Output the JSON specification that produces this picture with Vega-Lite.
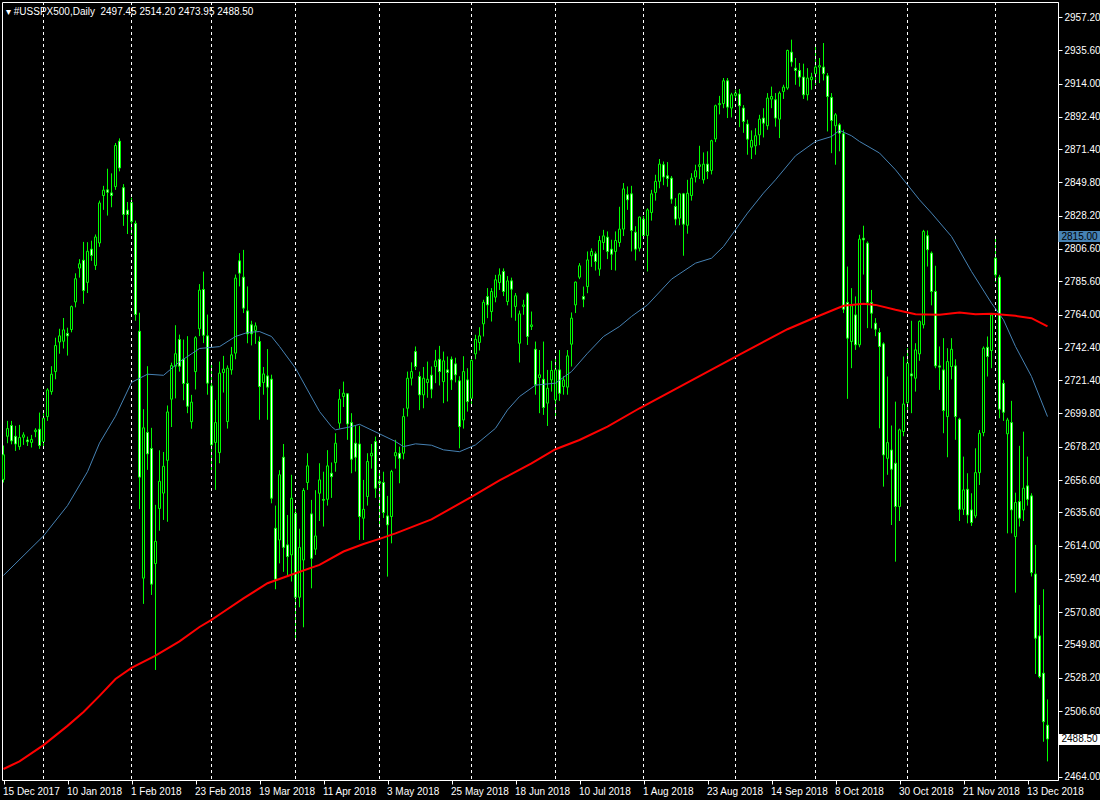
{
  "$schema": "https://vega.github.io/schema/vega-lite/v6.json",
  "width": 1056,
  "height": 778,
  "autosize": {"type": "none"},
  "padding": {"left": 2, "top": 2, "right": 42, "bottom": 20},
  "background": "black",
  "config": {
    "view": {"stroke": "white", "strokeWidth": 1},
    "axis": {"labelFont": "Liberation Sans", "labelFontSize": 10, "labelColor": "white", "domainColor": "white", "tickColor": "white", "grid": false, "title": null, "labelOverlap": false, "labelFlush": false}
  },
  "title": {"text": "▾ #USSPX500,Daily\u00a0\u00a02497.45 2514.20 2473.95 2488.50", "anchor": "start", "frame": "group", "orient": "top", "offset": -12, "dx": 4, "dy": 11, "baseline": "alphabetic", "color": "white", "font": "Liberation Sans", "fontSize": 10, "fontWeight": "normal"},
  "datasets": {
    "bars": [
      {"d":"2017-12-15","o":2657,"h":2679,"l":2655,"c":2673,"r":2469,"b":2594.7},
      {"d":"2017-12-18","o":2685,"h":2695,"l":2680.5,"c":2690},
      {"d":"2017-12-19","o":2692,"h":2695,"l":2679.8,"c":2682},
      {"d":"2017-12-20","o":2685,"h":2691.8,"l":2675.5,"c":2680},
      {"d":"2017-12-21","o":2678.3,"h":2692.4,"l":2676.2,"c":2684.2,"r":2474},
      {"d":"2017-12-22","o":2684.4,"h":2687.6,"l":2679.4,"c":2685.9},
      {"d":"2017-12-26","o":2682.6,"h":2684.8,"l":2678.7,"c":2681.5},
      {"d":"2017-12-27","o":2681,"h":2685.9,"l":2677.7,"c":2683},
      {"d":"2017-12-28","o":2688,"h":2690.2,"l":2684.4,"c":2689},
      {"d":"2017-12-29","o":2689.6,"h":2700.4,"l":2676.8,"c":2679},
      {"d":"2018-01-02","o":2681.6,"h":2700,"l":2677.2,"c":2696.7,"r":2484.5,"b":2620.3},
      {"d":"2018-01-03","o":2697.8,"h":2716.2,"l":2695,"c":2715.1},
      {"d":"2018-01-04","o":2714,"h":2730.5,"l":2712,"c":2725.3},
      {"d":"2018-01-05","o":2727,"h":2749,"l":2722,"c":2743.9},
      {"d":"2018-01-08","o":2746.2,"h":2754.8,"l":2738.6,"c":2750.2},
      {"d":"2018-01-09","o":2746.7,"h":2761.8,"l":2742,"c":2754.1},
      {"d":"2018-01-10","o":2751.8,"h":2755.5,"l":2737.4,"c":2750.2,"r":2497,"b":2640},
      {"d":"2018-01-11","o":2754.3,"h":2769.9,"l":2752.5,"c":2769.2},
      {"d":"2018-01-12","o":2772.2,"h":2790.8,"l":2768.7,"c":2787.3},
      {"d":"2018-01-15","o":2794.2,"h":2800,"l":2788,"c":2797},
      {"d":"2018-01-16","o":2799.3,"h":2811.2,"l":2771,"c":2779.6,"r":2506},
      {"d":"2018-01-17","o":2784.9,"h":2811,"l":2778,"c":2805.1,"b":2662},
      {"d":"2018-01-18","o":2806.5,"h":2812,"l":2798.9,"c":2802.4},
      {"d":"2018-01-19","o":2795.9,"h":2816,"l":2793,"c":2814.4},
      {"d":"2018-01-22","o":2810.5,"h":2838,"l":2808,"c":2836.5,"r":2516.5,"b":2680.6},
      {"d":"2018-01-23","o":2841.3,"h":2847.6,"l":2832,"c":2844.8},
      {"d":"2018-01-24","o":2845,"h":2858.7,"l":2828.3,"c":2843.4},
      {"d":"2018-01-25","o":2843,"h":2855.7,"l":2833.7,"c":2841.3},
      {"d":"2018-01-26","o":2847.1,"h":2875.4,"l":2845,"c":2873.8,"r":2527.4,"b":2698},
      {"d":"2018-01-29","o":2876.6,"h":2878.4,"l":2857,"c":2859.2},
      {"d":"2018-01-30","o":2846.4,"h":2848.7,"l":2821.6,"c":2829},
      {"d":"2018-01-31","o":2831.8,"h":2837.1,"l":2816.3,"c":2829},
      {"d":"2018-02-01","o":2836.7,"h":2839.9,"l":2815.8,"c":2824.4,"r":2534.6,"b":2720},
      {"d":"2018-02-02","o":2823.2,"h":2825,"l":2760,"c":2764.1},
      {"d":"2018-02-05","o":2753.2,"h":2765.2,"l":2637.7,"c":2658.5},
      {"d":"2018-02-06","o":2592.9,"h":2702.6,"l":2576.2,"c":2690.5},
      {"d":"2018-02-07","o":2687.5,"h":2730.5,"l":2663.2,"c":2673.6,"b":2725.3},
      {"d":"2018-02-08","o":2677.1,"h":2690.5,"l":2582,"c":2589},
      {"d":"2018-02-09","o":2602.4,"h":2640.5,"l":2533.3,"c":2616.8,"r":2542.6},
      {"d":"2018-02-12","o":2638.1,"h":2675.9,"l":2623.7,"c":2655.8},
      {"d":"2018-02-13","o":2648.1,"h":2674.8,"l":2630.7,"c":2665.5,"b":2724.6},
      {"d":"2018-02-14","o":2669.4,"h":2705,"l":2629.5,"c":2700.8},
      {"d":"2018-02-15","o":2709.1,"h":2732.8,"l":2691,"c":2730.9},
      {"d":"2018-02-16","o":2730.5,"h":2757.1,"l":2709.6,"c":2738.6},
      {"d":"2018-02-19","o":2747.8,"h":2751,"l":2727,"c":2730.5,"r":2551.9,"b":2733.3},
      {"d":"2018-02-20","o":2735.1,"h":2747.8,"l":2708.4,"c":2719.3},
      {"d":"2018-02-21","o":2719.3,"h":2750,"l":2700,"c":2704.5},
      {"d":"2018-02-22","o":2694.5,"h":2711.9,"l":2689.9,"c":2707.2},
      {"d":"2018-02-23","o":2727,"h":2750,"l":2715.4,"c":2749},
      {"d":"2018-02-26","o":2754.8,"h":2783.8,"l":2750,"c":2779.9,"r":2561.2,"b":2742},
      {"d":"2018-02-27","o":2780.3,"h":2791.9,"l":2745.5,"c":2750.6},
      {"d":"2018-02-28","o":2750.2,"h":2764,"l":2712,"c":2719.5},
      {"d":"2018-03-01","o":2717.7,"h":2732,"l":2662,"c":2679.4,"r":2565.8},
      {"d":"2018-03-02","o":2681,"h":2708.6,"l":2650.2,"c":2693.9},
      {"d":"2018-03-05","o":2674.4,"h":2733.5,"l":2667.5,"c":2726,"r":2569.3,"b":2743.2},
      {"d":"2018-03-06","o":2726.4,"h":2737.2,"l":2713.4,"c":2728.6},
      {"d":"2018-03-07","o":2694.6,"h":2731,"l":2690,"c":2729.2},
      {"d":"2018-03-08","o":2728.1,"h":2743,"l":2725,"c":2737.9},
      {"d":"2018-03-09","o":2739,"h":2790,"l":2735,"c":2787.7,"b":2749.8},
      {"d":"2018-03-12","o":2798.9,"h":2803.9,"l":2782.3,"c":2790.9},
      {"d":"2018-03-13","o":2788.3,"h":2806,"l":2765,"c":2768.2,"r":2579.8},
      {"d":"2018-03-14","o":2766.4,"h":2782.3,"l":2745.4,"c":2751.5,"b":2752.4},
      {"d":"2018-03-15","o":2757.4,"h":2760,"l":2744,"c":2751.5},
      {"d":"2018-03-16","o":2753.7,"h":2758.9,"l":2745,"c":2756.7},
      {"d":"2018-03-19","o":2746.5,"h":2749.8,"l":2695.7,"c":2717.3,"b":2753},
      {"d":"2018-03-20","o":2719.9,"h":2730,"l":2712,"c":2725.5},
      {"d":"2018-03-21","o":2724.2,"h":2741.6,"l":2695.7,"c":2716.9,"r":2589.6},
      {"d":"2018-03-22","o":2722.1,"h":2725,"l":2641.5,"c":2644.8,"b":2749.8},
      {"d":"2018-03-23","o":2625.3,"h":2640,"l":2585.7,"c":2592.2},
      {"d":"2018-03-26","o":2617.7,"h":2663,"l":2602.5,"c":2660,"b":2743.3},
      {"d":"2018-03-27","o":2671.4,"h":2680,"l":2597,"c":2612.9},
      {"d":"2018-03-28","o":2614.5,"h":2633.9,"l":2593.9,"c":2606.9},
      {"d":"2018-03-29","o":2608,"h":2660,"l":2590.7,"c":2644.8},
      {"d":"2018-04-02","o":2635,"h":2639.4,"l":2552.8,"c":2580.5,"r":2596.1,"b":2729.2},
      {"d":"2018-04-03","o":2580.5,"h":2625,"l":2574,"c":2612.9},
      {"d":"2018-04-04","o":2604.7,"h":2651.3,"l":2561,"c":2649.8},
      {"d":"2018-04-05","o":2655,"h":2674,"l":2650.2,"c":2665.8,"b":2715.1},
      {"d":"2018-04-06","o":2634.6,"h":2643.7,"l":2586.3,"c":2605.8},
      {"d":"2018-04-09","o":2611.7,"h":2650,"l":2608,"c":2620.3},
      {"d":"2018-04-10","o":2648,"h":2667.5,"l":2630,"c":2656.7,"r":2601.5,"b":2701.1},
      {"d":"2018-04-11","o":2644,"h":2662,"l":2626.4,"c":2643.5},
      {"d":"2018-04-12","o":2644.1,"h":2676,"l":2640,"c":2665.8},
      {"d":"2018-04-13","o":2661,"h":2668,"l":2645,"c":2658.8,"b":2691.3},
      {"d":"2018-04-16","o":2667.9,"h":2687,"l":2662,"c":2680.5,"b":2689.2},
      {"d":"2018-04-17","o":2693.5,"h":2715.6,"l":2690,"c":2709.1},
      {"d":"2018-04-18","o":2710.8,"h":2720.5,"l":2704,"c":2713,"r":2610.2},
      {"d":"2018-04-19","o":2712.6,"h":2713,"l":2682.7,"c":2693},
      {"d":"2018-04-20","o":2693.9,"h":2700,"l":2661,"c":2670.1,"b":2691.3},
      {"d":"2018-04-23","o":2680.5,"h":2691.8,"l":2662.1,"c":2671.4},
      {"d":"2018-04-24","o":2680,"h":2691.8,"l":2617.7,"c":2632.9,"b":2692.8},
      {"d":"2018-04-25","o":2631.8,"h":2656.7,"l":2617.7,"c":2637.6,"r":2615.1},
      {"d":"2018-04-26","o":2645.9,"h":2674,"l":2640,"c":2668.6},
      {"d":"2018-04-27","o":2672.3,"h":2680,"l":2664,"c":2674},
      {"d":"2018-04-30","o":2681.6,"h":2684.8,"l":2645,"c":2651.3},
      {"d":"2018-05-01","o":2655.6,"h":2663.2,"l":2625.9,"c":2654.5,"r":2618.4,"b":2686.6},
      {"d":"2018-05-02","o":2655,"h":2662,"l":2632,"c":2635.5},
      {"d":"2018-05-03","o":2633.3,"h":2646.3,"l":2593.9,"c":2627.5},
      {"d":"2018-05-04","o":2632.9,"h":2663.2,"l":2615.5,"c":2662.1},
      {"d":"2018-05-07","o":2672.3,"h":2682.7,"l":2664,"c":2674.4,"r":2622,"b":2681.6},
      {"d":"2018-05-08","o":2674,"h":2678.3,"l":2654.5,"c":2670.7},
      {"d":"2018-05-09","o":2674,"h":2703.2,"l":2670,"c":2697.8,"b":2678.3},
      {"d":"2018-05-10","o":2703.2,"h":2727,"l":2697.8,"c":2722.7},
      {"d":"2018-05-11","o":2722.7,"h":2733,"l":2718,"c":2727},
      {"d":"2018-05-14","o":2740,"h":2743.3,"l":2728,"c":2730.3,"b":2680.1},
      {"d":"2018-05-15","o":2723.8,"h":2727,"l":2702,"c":2711.9},
      {"d":"2018-05-16","o":2711.9,"h":2730,"l":2703.2,"c":2722.7},
      {"d":"2018-05-17","o":2719.9,"h":2733.5,"l":2710,"c":2722},
      {"d":"2018-05-18","o":2724.7,"h":2730.3,"l":2709.7,"c":2715.6,"r":2631.1,"b":2679.2},
      {"d":"2018-05-21","o":2730.3,"h":2741.1,"l":2719.5,"c":2734},
      {"d":"2018-05-22","o":2735,"h":2743.7,"l":2718,"c":2727},
      {"d":"2018-05-23","o":2720.5,"h":2740,"l":2706.5,"c":2734,"b":2676.2},
      {"d":"2018-05-24","o":2728.1,"h":2736.8,"l":2707.6,"c":2726.4},
      {"d":"2018-05-25","o":2735,"h":2736.8,"l":2715.1,"c":2721.6},
      {"d":"2018-05-28","o":2732,"h":2736,"l":2720,"c":2724.9},
      {"d":"2018-05-29","o":2721,"h":2724,"l":2677.2,"c":2691.3,"b":2675},
      {"d":"2018-05-30","o":2695.6,"h":2737,"l":2690,"c":2727},
      {"d":"2018-05-31","o":2721.6,"h":2729.2,"l":2701,"c":2707.5},
      {"d":"2018-06-01","o":2709.7,"h":2735,"l":2705,"c":2734.2,"r":2645.6},
      {"d":"2018-06-04","o":2738.5,"h":2750.9,"l":2735,"c":2748,"b":2679.4},
      {"d":"2018-06-05","o":2745.9,"h":2755.8,"l":2740.7,"c":2750.2},
      {"d":"2018-06-06","o":2758,"h":2773.6,"l":2749.8,"c":2772},
      {"d":"2018-06-07","o":2775.7,"h":2781.2,"l":2761.7,"c":2770.3},
      {"d":"2018-06-08","o":2766,"h":2781.2,"l":2759.5,"c":2779},
      {"d":"2018-06-11","o":2775.3,"h":2789.8,"l":2772,"c":2786.6,"b":2690.2},
      {"d":"2018-06-12","o":2784.8,"h":2794,"l":2780,"c":2789.8,"r":2656.4},
      {"d":"2018-06-13","o":2792,"h":2794,"l":2776,"c":2779},
      {"d":"2018-06-14","o":2772.5,"h":2789,"l":2770,"c":2785.9,"b":2702.1},
      {"d":"2018-06-15","o":2785.9,"h":2788,"l":2762,"c":2780.5},
      {"d":"2018-06-18","o":2769.3,"h":2778,"l":2760,"c":2776.2},
      {"d":"2018-06-19","o":2745.4,"h":2766.6,"l":2732.9,"c":2764.5,"b":2710.8},
      {"d":"2018-06-20","o":2769.3,"h":2773.6,"l":2763.9,"c":2770.3},
      {"d":"2018-06-21","o":2777.5,"h":2778.4,"l":2744.3,"c":2749.8},
      {"d":"2018-06-22","o":2756.3,"h":2766,"l":2754,"c":2757.3,"r":2667.4},
      {"d":"2018-06-25","o":2741.5,"h":2746.5,"l":2712,"c":2718.4,"b":2718.2},
      {"d":"2018-06-26","o":2723.1,"h":2741,"l":2700,"c":2724.9},
      {"d":"2018-06-27","o":2722,"h":2746.5,"l":2698.9,"c":2703.7},
      {"d":"2018-06-28","o":2706.5,"h":2728.1,"l":2691.7,"c":2716.2},
      {"d":"2018-06-29","o":2721.6,"h":2734,"l":2714,"c":2727.7},
      {"d":"2018-07-02","o":2708.6,"h":2735.7,"l":2697.8,"c":2728.1,"r":2676.6,"b":2719.5},
      {"d":"2018-07-03","o":2728.1,"h":2741,"l":2708,"c":2712.9},
      {"d":"2018-07-04","o":2717.3,"h":2724,"l":2712,"c":2721.6},
      {"d":"2018-07-05","o":2716.9,"h":2741,"l":2712,"c":2737.2},
      {"d":"2018-07-06","o":2744.8,"h":2765.4,"l":2730.3,"c":2761.7,"b":2727},
      {"d":"2018-07-09","o":2770.3,"h":2785.5,"l":2765,"c":2785.1},
      {"d":"2018-07-10","o":2788.3,"h":2797.4,"l":2787,"c":2795.7,"r":2682.6},
      {"d":"2018-07-11","o":2775.7,"h":2782.2,"l":2768.8,"c":2774},
      {"d":"2018-07-12","o":2782.2,"h":2805,"l":2777.9,"c":2799.5,"b":2738.9},
      {"d":"2018-07-13","o":2802.2,"h":2807,"l":2795,"c":2805},
      {"d":"2018-07-16","o":2803.5,"h":2805,"l":2792.6,"c":2798.5},
      {"d":"2018-07-17","o":2793.5,"h":2815.1,"l":2789.2,"c":2812.1},
      {"d":"2018-07-18","o":2810.8,"h":2819,"l":2806,"c":2815.1,"b":2749.8},
      {"d":"2018-07-19","o":2814.3,"h":2818,"l":2800,"c":2805,"r":2691.3},
      {"d":"2018-07-20","o":2806.5,"h":2812.6,"l":2793,"c":2803.2},
      {"d":"2018-07-23","o":2805,"h":2818,"l":2792.6,"c":2812.1},
      {"d":"2018-07-24","o":2810.8,"h":2834,"l":2808,"c":2819.5,"b":2756.3},
      {"d":"2018-07-25","o":2819.5,"h":2849.4,"l":2815,"c":2845.6},
      {"d":"2018-07-26","o":2841.8,"h":2847.2,"l":2832,"c":2838.5},
      {"d":"2018-07-27","o":2842.4,"h":2847.6,"l":2805,"c":2818.6,"b":2762.8},
      {"d":"2018-07-30","o":2817.5,"h":2821.4,"l":2799.1,"c":2806.5},
      {"d":"2018-07-31","o":2807.1,"h":2827.7,"l":2805,"c":2827.3,"r":2703.2},
      {"d":"2018-08-01","o":2826,"h":2828,"l":2813,"c":2815.4},
      {"d":"2018-08-02","o":2815.4,"h":2833,"l":2792,"c":2832,"b":2770.3},
      {"d":"2018-08-03","o":2830.3,"h":2845,"l":2825,"c":2842.4},
      {"d":"2018-08-06","o":2843.3,"h":2854.8,"l":2838,"c":2850.5},
      {"d":"2018-08-07","o":2850.5,"h":2865,"l":2846,"c":2861.7},
      {"d":"2018-08-08","o":2861.3,"h":2863.4,"l":2848,"c":2853.3},
      {"d":"2018-08-09","o":2854.1,"h":2863,"l":2847,"c":2852.4},
      {"d":"2018-08-10","o":2852.6,"h":2854,"l":2836,"c":2839,"b":2787},
      {"d":"2018-08-13","o":2834.2,"h":2839.6,"l":2822,"c":2826},
      {"d":"2018-08-14","o":2826.6,"h":2843,"l":2822,"c":2842.4},
      {"d":"2018-08-15","o":2842.4,"h":2843,"l":2802.2,"c":2822.7},
      {"d":"2018-08-16","o":2822,"h":2851.5,"l":2816.5,"c":2842.8},
      {"d":"2018-08-17","o":2841.3,"h":2855.8,"l":2838,"c":2852.6},
      {"d":"2018-08-20","o":2853.3,"h":2861.3,"l":2849.8,"c":2857.4,"b":2797.4},
      {"d":"2018-08-21","o":2860.2,"h":2873.6,"l":2852,"c":2861.3,"r":2724},
      {"d":"2018-08-22","o":2851.5,"h":2869.3,"l":2849,"c":2861.7},
      {"d":"2018-08-23","o":2861.7,"h":2870,"l":2852,"c":2856.9},
      {"d":"2018-08-24","o":2857.6,"h":2877.5,"l":2855,"c":2876.9,"b":2800.6},
      {"d":"2018-08-27","o":2878,"h":2900.3,"l":2876,"c":2899.6},
      {"d":"2018-08-28","o":2900.3,"h":2906,"l":2894,"c":2901},
      {"d":"2018-08-29","o":2901,"h":2917.6,"l":2898,"c":2915.8,"b":2808.2},
      {"d":"2018-08-30","o":2915.8,"h":2917.6,"l":2891.6,"c":2898.7},
      {"d":"2018-08-31","o":2898.1,"h":2908,"l":2892,"c":2906.7},
      {"d":"2018-09-03","o":2906.3,"h":2910,"l":2903,"c":2907.8,"b":2819.1},
      {"d":"2018-09-04","o":2907.2,"h":2910.4,"l":2885.7,"c":2899.6,"r":2738},
      {"d":"2018-09-05","o":2898.1,"h":2900,"l":2882,"c":2889.4},
      {"d":"2018-09-06","o":2887.7,"h":2890.5,"l":2867.8,"c":2877.9,"b":2829.9},
      {"d":"2018-09-07","o":2872.7,"h":2883.6,"l":2865,"c":2877.1},
      {"d":"2018-09-10","o":2873.6,"h":2885,"l":2867.8,"c":2880.1},
      {"d":"2018-09-11","o":2880.7,"h":2893.7,"l":2874,"c":2890.9},
      {"d":"2018-09-12","o":2891.6,"h":2898,"l":2879,"c":2888.3,"b":2842.9},
      {"d":"2018-09-13","o":2886.6,"h":2907.8,"l":2884,"c":2904.6},
      {"d":"2018-09-14","o":2903.9,"h":2912,"l":2898,"c":2905.6},
      {"d":"2018-09-17","o":2903.5,"h":2907.8,"l":2886,"c":2891.6,"b":2851.5},
      {"d":"2018-09-18","o":2890.9,"h":2908.9,"l":2878.6,"c":2907.8},
      {"d":"2018-09-19","o":2908.9,"h":2913.2,"l":2904,"c":2911.7},
      {"d":"2018-09-20","o":2911.1,"h":2936,"l":2910,"c":2935.5,"r":2754.5},
      {"d":"2018-09-21","o":2934.4,"h":2942.5,"l":2925,"c":2928},
      {"d":"2018-09-24","o":2924,"h":2930.6,"l":2913.2,"c":2922.5,"b":2867.1},
      {"d":"2018-09-25","o":2922.5,"h":2927.3,"l":2912,"c":2918.2},
      {"d":"2018-09-26","o":2918.2,"h":2926.9,"l":2904,"c":2906.7},
      {"d":"2018-09-27","o":2906.7,"h":2924,"l":2903,"c":2917.6},
      {"d":"2018-09-28","o":2916.5,"h":2921,"l":2910,"c":2918.2},
      {"d":"2018-10-01","o":2920.4,"h":2938.6,"l":2913,"c":2924.7,"r":2762.3,"b":2876.4},
      {"d":"2018-10-02","o":2924.7,"h":2930.6,"l":2914.3,"c":2925.6},
      {"d":"2018-10-03","o":2924.7,"h":2940.3,"l":2916,"c":2920.4},
      {"d":"2018-10-04","o":2919,"h":2920.8,"l":2882.9,"c":2905.6},
      {"d":"2018-10-05","o":2905,"h":2907.8,"l":2868.8,"c":2890,"b":2879.6},
      {"d":"2018-10-08","o":2886.6,"h":2894.8,"l":2861.3,"c":2893.7},
      {"d":"2018-10-09","o":2887.2,"h":2888.3,"l":2870,"c":2881.8,"b":2883.6},
      {"d":"2018-10-10","o":2881.4,"h":2884,"l":2765,"c":2767.5,"r":2769.7},
      {"d":"2018-10-11","o":2771.9,"h":2795.2,"l":2709.3,"c":2748.7},
      {"d":"2018-10-12","o":2746.5,"h":2781.2,"l":2729.2,"c":2769.7,"b":2880.1},
      {"d":"2018-10-15","o":2763.8,"h":2775.8,"l":2741.1,"c":2744.4},
      {"d":"2018-10-16","o":2744.4,"h":2815.8,"l":2742.8,"c":2813,"b":2876.4},
      {"d":"2018-10-17","o":2813.6,"h":2821.7,"l":2790,"c":2812.5,"r":2771},
      {"d":"2018-10-18","o":2810.4,"h":2811.5,"l":2755.2,"c":2771.9},
      {"d":"2018-10-19","o":2771.9,"h":2780,"l":2755,"c":2764.9},
      {"d":"2018-10-22","o":2758.4,"h":2761.7,"l":2750,"c":2754.5,"r":2770.3},
      {"d":"2018-10-23","o":2752.4,"h":2755.2,"l":2690.2,"c":2743.3,"b":2868.9},
      {"d":"2018-10-24","o":2745,"h":2746,"l":2652.3,"c":2672.9},
      {"d":"2018-10-25","o":2670.7,"h":2723.8,"l":2660,"c":2680.9},
      {"d":"2018-10-26","o":2676.1,"h":2692,"l":2627.4,"c":2663.6},
      {"d":"2018-10-29","o":2667.5,"h":2707.5,"l":2603.6,"c":2639.4,"r":2767.1,"b":2858},
      {"d":"2018-10-30","o":2639.4,"h":2690,"l":2630,"c":2689.2},
      {"d":"2018-10-31","o":2688.1,"h":2736.8,"l":2685,"c":2706},
      {"d":"2018-11-01","o":2706.9,"h":2742.2,"l":2700.4,"c":2732.4},
      {"d":"2018-11-02","o":2725.5,"h":2760,"l":2700,"c":2724.2},
      {"d":"2018-11-05","o":2722.7,"h":2745.4,"l":2714,"c":2741.1,"r":2764.3},
      {"d":"2018-11-06","o":2738.5,"h":2760.2,"l":2734,"c":2759.6,"b":2838.5},
      {"d":"2018-11-07","o":2757.4,"h":2819,"l":2755,"c":2818},
      {"d":"2018-11-08","o":2815.2,"h":2818.6,"l":2795.2,"c":2806.1},
      {"d":"2018-11-09","o":2803.9,"h":2805,"l":2770,"c":2779,"b":2829.9},
      {"d":"2018-11-12","o":2779,"h":2795.7,"l":2729.2,"c":2730.7},
      {"d":"2018-11-13","o":2730.7,"h":2743.3,"l":2715.1,"c":2729.9,"r":2763.9},
      {"d":"2018-11-14","o":2728.1,"h":2748.7,"l":2687,"c":2701.7},
      {"d":"2018-11-15","o":2697.8,"h":2742.2,"l":2671.4,"c":2733.5},
      {"d":"2018-11-16","o":2730.3,"h":2748.7,"l":2722,"c":2741.5,"b":2814.7},
      {"d":"2018-11-19","o":2730.7,"h":2735,"l":2682.7,"c":2697.8},
      {"d":"2018-11-20","o":2696.1,"h":2697,"l":2630,"c":2637.6,"r":2765.4},
      {"d":"2018-11-21","o":2637.6,"h":2671.8,"l":2633.9,"c":2650.2},
      {"d":"2018-11-22","o":2650.6,"h":2661,"l":2628.5,"c":2633.9},
      {"d":"2018-11-23","o":2637.2,"h":2648,"l":2626.8,"c":2629,"b":2792},
      {"d":"2018-11-26","o":2633.3,"h":2677.2,"l":2631.8,"c":2661.4,"r":2764.3},
      {"d":"2018-11-27","o":2661.4,"h":2689.1,"l":2653.4,"c":2687},
      {"d":"2018-11-28","o":2687.4,"h":2743.3,"l":2685,"c":2742.2},
      {"d":"2018-11-29","o":2742.8,"h":2749.8,"l":2723.8,"c":2736.8},
      {"d":"2018-11-30","o":2740.7,"h":2764,"l":2729.2,"c":2763.8,"r":2764.5,"b":2771.4},
      {"d":"2018-12-03","o":2800.6,"h":2815.2,"l":2785,"c":2789.8},
      {"d":"2018-12-04","o":2788.3,"h":2789.8,"l":2696.7,"c":2702.6},
      {"d":"2018-12-05","o":2719.4,"h":2721.6,"l":2695,"c":2700.6,"b":2760.6},
      {"d":"2018-12-06","o":2686.6,"h":2697,"l":2622,"c":2695.6},
      {"d":"2018-12-07","o":2693.9,"h":2708,"l":2622,"c":2637.2},
      {"d":"2018-12-10","o":2619.9,"h":2648.4,"l":2583.5,"c":2642,"r":2763.2,"b":2743.3},
      {"d":"2018-12-11","o":2642.6,"h":2678.8,"l":2626.4,"c":2631.8},
      {"d":"2018-12-12","o":2637.2,"h":2688,"l":2630,"c":2651.3},
      {"d":"2018-12-13","o":2652.8,"h":2671.8,"l":2640,"c":2644.1},
      {"d":"2018-12-14","o":2646.3,"h":2648,"l":2594,"c":2596.5,"r":2761.7,"b":2723.8},
      {"d":"2018-12-17","o":2595.6,"h":2614.5,"l":2530.7,"c":2553.9},
      {"d":"2018-12-18","o":2555.4,"h":2575.5,"l":2527.9,"c":2529},
      {"d":"2018-12-19","o":2531.2,"h":2585.7,"l":2486.7,"c":2499.7},
      {"d":"2018-12-20","o":2497.45,"h":2514.2,"l":2473.95,"c":2488.5,"r":2756.3,"b":2697.8}
    ]
  },
  "layer": [
    {
      "data": {"name": "bars"},
      "mark": {"type": "rule", "color": "#00FF00", "strokeWidth": 1},
      "encoding": {
        "x": {
          "field": "d", "type": "ordinal", "sort": "ascending",
          "scale": {"type": "point", "range": [1.5, 1045.5], "padding": 0},
          "axis": {
            "orient": "bottom",
            "values": ["2017-12-15","2018-01-10","2018-02-01","2018-02-23","2018-03-19","2018-04-11","2018-05-03","2018-05-25","2018-06-18","2018-07-10","2018-08-01","2018-08-23","2018-09-14","2018-10-08","2018-10-30","2018-11-21","2018-12-13"],
            "labelExpr": "utcFormat(toDate(datum.value), '%-d %b %Y')",
            "labelAngle": 0, "labelAlign": "left", "labelBaseline": "top", "labelPadding": 2, "labelOffset": -1,
            "tickSize": 4, "domain": true
          }
        },
        "y": {"field": "l", "type": "quantitative",
          "scale": {"domain": [2461.86, 2966.94], "zero": false, "nice": false},
          "axis": {"orient": "right", "values": [2464, 2506.6, 2528.2, 2549.8, 2570.8, 2592.4, 2614, 2635.6, 2656.6, 2678.2, 2699.8, 2721.4, 2742.4, 2764, 2785.6, 2806.6, 2828.2, 2849.8, 2871.4, 2892.4, 2914, 2935.6, 2957.2], "format": ".2f", "tickSize": 4, "labelPadding": 2, "domain": true}},
        "y2": {"field": "h"}
      }
    },
    {
      "data": {"name": "bars"},
      "transform": [{"filter": {"field": "d", "oneOf": ["2018-01-02","2018-02-01","2018-03-01","2018-04-02","2018-05-01","2018-06-01","2018-07-02","2018-08-01","2018-09-03","2018-10-01","2018-11-01","2018-12-03"]}}],
      "mark": {"type": "rule", "color": "white", "strokeWidth": 1, "strokeDash": [3, 3]},
      "encoding": {
        "x": {"field": "d", "type": "ordinal", "sort": "ascending", "axis": null}
      }
    },
    {
      "data": {"name": "bars"},
      "mark": {"type": "bar", "width": 2, "stroke": "#00FF00", "strokeWidth": 1},
      "encoding": {
        "x": {"field": "d", "type": "ordinal", "sort": "ascending", "axis": null},
        "y": {"field": "o", "type": "quantitative", "axis": null},
        "y2": {"field": "c"},
        "fill": {"condition": {"test": "datum.c >= datum.o", "value": "black"}, "value": "white"}
      }
    },
    {
      "data": {"name": "bars"},
      "mark": {"type": "line", "color": "#4682B4", "strokeWidth": 1, "invalid": "filter"},
      "encoding": {
        "x": {"field": "d", "type": "ordinal", "sort": "ascending", "axis": null},
        "y": {"field": "b", "type": "quantitative", "axis": null}
      }
    },
    {
      "data": {"name": "bars"},
      "mark": {"type": "line", "color": "#FF0000", "strokeWidth": 2, "invalid": "filter"},
      "encoding": {
        "x": {"field": "d", "type": "ordinal", "sort": "ascending", "axis": null},
        "y": {"field": "r", "type": "quantitative", "axis": null}
      }
    },
    {
      "mark": {"type": "rule", "color": "#4682B4", "strokeWidth": 1},
      "encoding": {
        "y": {"datum": 2815, "type": "quantitative",
          "axis": {"orient": "right", "values": [2815], "format": ".2f", "tickSize": 42, "tickWidth": 11, "tickColor": "#4682B4", "tickCap": "butt", "labelColor": "black", "labelPadding": -39, "domain": false}}
      }
    },
    {
      "mark": {"type": "rule", "color": "#778899", "strokeWidth": 1},
      "encoding": {
        "y": {"datum": 2488.5, "type": "quantitative",
          "axis": {"orient": "right", "values": [2488.5], "format": ".2f", "tickSize": 42, "tickWidth": 11, "tickColor": "white", "tickCap": "butt", "labelColor": "black", "labelPadding": -39, "domain": false}}
      }
    }
  ],
  "resolve": {"scale": {"x": "shared", "y": "shared"}, "axis": {"x": "independent", "y": "independent"}}
}
